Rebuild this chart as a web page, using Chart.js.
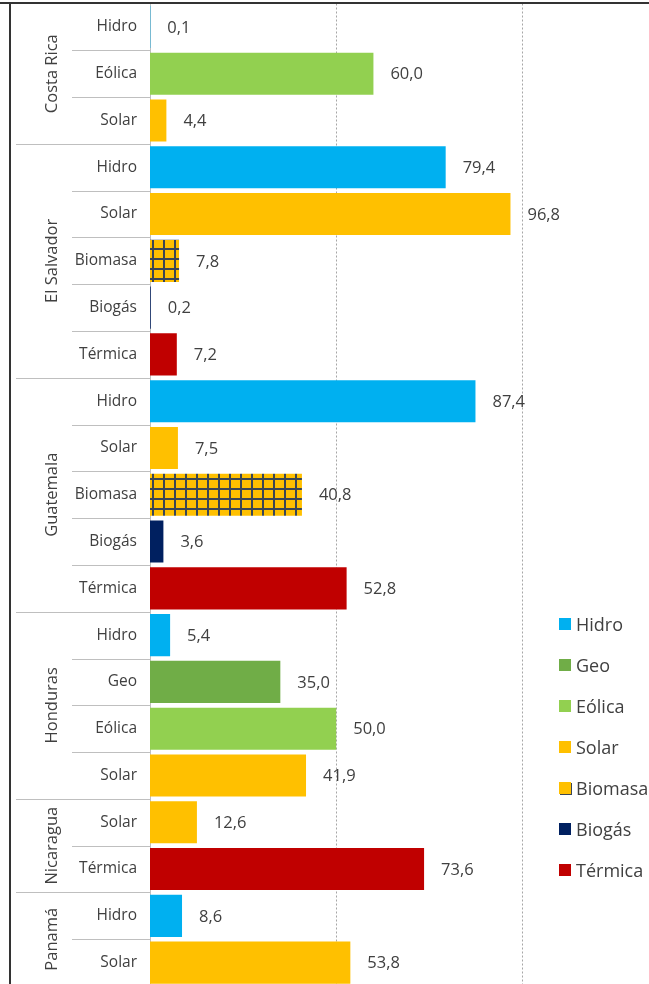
<!DOCTYPE html>
<html>
<head>
<meta charset="utf-8">
<script src="https://cdn.jsdelivr.net/npm/chart.js@4.4.1/dist/chart.umd.min.js"></script>
<style>
  html, body { margin: 0; padding: 0; background: #fff; overflow: hidden; }
  #wrap { position: relative; width: 649px; height: 986px; }
  #legend { position: absolute; left: 559px; top: 612px; font-family: "Open Sans", sans-serif; font-size: 18px; color: #404040; }
  .li { height: 41px; display: flex; align-items: flex-start; white-space: nowrap; line-height: 24px; }
  .sw { width: 12px; height: 12px; margin-right: 5px; margin-top: 6px; flex: none; }
</style>
</head>
<body>
<div id="wrap">
  <canvas id="c" width="649" height="986"></canvas>
  <div id="legend"></div>
</div>
<script>
// ---- data ----
const countries = ['Costa Rica', 'El Salvador', 'Guatemala', 'Honduras', 'Nicaragua', 'Panamá'];
const rowCountry = ['Costa Rica','Costa Rica','Costa Rica',
  'El Salvador','El Salvador','El Salvador','El Salvador','El Salvador',
  'Guatemala','Guatemala','Guatemala','Guatemala','Guatemala',
  'Honduras','Honduras','Honduras','Honduras',
  'Nicaragua','Nicaragua',
  'Panamá','Panamá'];
const categories = ['Hidro','Eólica','Solar',
  'Hidro','Solar','Biomasa','Biogás','Térmica',
  'Hidro','Solar','Biomasa','Biogás','Térmica',
  'Hidro','Geo','Eólica','Solar',
  'Solar','Térmica',
  'Hidro','Solar'];
const values = [0.1, 60.0, 4.4,
  79.4, 96.8, 7.8, 0.2, 7.2,
  87.4, 7.5, 40.8, 3.6, 52.8,
  5.4, 35.0, 50.0, 41.9,
  12.6, 73.6,
  8.6, 53.8];
const legendItems = ['Hidro','Geo','Eólica','Solar','Biomasa','Biogás','Térmica'];
const gridValues = [50, 100];

// ---- styles ----
const colors = { 'Hidro':'#00B0F0', 'Geo':'#70AD47', 'Eólica':'#92D050', 'Solar':'#FFC000',
  'Biomasa':'#FFC000', 'Biogás':'#002060', 'Térmica':'#C00000' };
const textColor = '#404040';
const font = '"Open Sans", sans-serif';

function makePattern() {
  const p = document.createElement('canvas');
  p.width = 11; p.height = 10;
  const g = p.getContext('2d');
  g.fillStyle = '#FFC000'; g.fillRect(0, 0, 11, 10);
  g.fillStyle = '#3b4654';
  g.fillRect(9, 0, 2, 10);
  g.fillRect(0, 8, 11, 2);
  return document.getElementById('c').getContext('2d').createPattern(p, 'repeat');
}
const biomasaPattern = makePattern();
const barColors = categories.map(c => c === 'Biomasa' ? biomasaPattern : colors[c]);

// legend (HTML, real text)
const lg = document.getElementById('legend');
legendItems.forEach(name => {
  const d = document.createElement('div'); d.className = 'li';
  const s = document.createElement('span'); s.className = 'sw';
  s.style.background = colors[name];
  if (name === 'Biomasa') s.style.boxShadow = '1px 1px 0 #3b4654';
  d.appendChild(s);
  d.appendChild(document.createTextNode(name));
  lg.appendChild(d);
});

const fmt = v => v.toFixed(1).replace('.', ',');

const decoPlugin = {
  id: 'deco',
  afterDraw(chart) {
    const ctx = chart.ctx, y = chart.scales.y, area = chart.chartArea;
    const step = y.getPixelForValue(1) - y.getPixelForValue(0);
    ctx.save();
    // frame
    ctx.fillStyle = '#333';
    ctx.fillRect(0, 2, chart.width, 2);
    ctx.fillRect(9, 2, 2, chart.height);
    // separators
    ctx.strokeStyle = '#bfbfbf'; ctx.lineWidth = 1;
    for (let i = 1; i < categories.length; i++) {
      const py = Math.round(y.getPixelForValue(i) - step / 2) + 0.5;
      const newCountry = rowCountry[i] !== rowCountry[i - 1];
      ctx.beginPath();
      ctx.moveTo(newCountry ? 16 : 72, py);
      ctx.lineTo(area.left, py);
      ctx.stroke();
    }
    // country labels
    ctx.fillStyle = textColor;
    ctx.font = '16.5px ' + font;
    ctx.textAlign = 'center'; ctx.textBaseline = 'middle';
    countries.forEach(c => {
      const first = rowCountry.indexOf(c), last = rowCountry.lastIndexOf(c);
      const cy = (y.getPixelForValue(first) + y.getPixelForValue(last)) / 2;
      ctx.save();
      ctx.translate(52, cy);
      ctx.rotate(-Math.PI / 2);
      ctx.fillText(c, 0, 0);
      ctx.restore();
    });
    // value labels
    const meta = chart.getDatasetMeta(0);
    ctx.font = '16.5px ' + font;
    ctx.textAlign = 'left';
    meta.data.forEach((bar, i) => {
      ctx.fillText(fmt(values[i]), bar.x + 17, bar.y + 1);
    });
    ctx.restore();
  }
};

new Chart(document.getElementById('c'), {
  type: 'bar',
  data: {
    labels: categories,
    datasets: [{ data: values, backgroundColor: barColors, borderWidth: 0,
      barPercentage: 0.9, categoryPercentage: 1.0 }]
  },
  options: {
    indexAxis: 'y',
    responsive: false,
    animation: false,
    layout: { padding: { top: 3.5, bottom: 0, left: 0, right: 0 } },
    plugins: { legend: { display: false }, tooltip: { enabled: false } },
    scales: {
      x: {
        min: 0, max: 134,
        afterBuildTicks(s) { s.ticks = gridValues.map(v => ({ value: v })); },
        ticks: { display: false },
        border: { display: false, dash: [2, 2] },
        grid: { color: '#a6a6a6', lineWidth: 1, drawTicks: false },
        afterFit(s) { s.height = 0; s.paddingLeft = 0; s.paddingRight = 0; }
      },
      y: {
        afterFit(s) { s.width = 150; s.paddingTop = 0; s.paddingBottom = 0; },
        ticks: { color: textColor, font: { family: font, size: 15.5 }, padding: 13, autoSkip: false },
        grid: { display: false, drawTicks: false },
        border: { display: true, color: '#bfbfbf', width: 1 }
      }
    }
  },
  plugins: [decoPlugin]
});
</script>
</body>
</html>
